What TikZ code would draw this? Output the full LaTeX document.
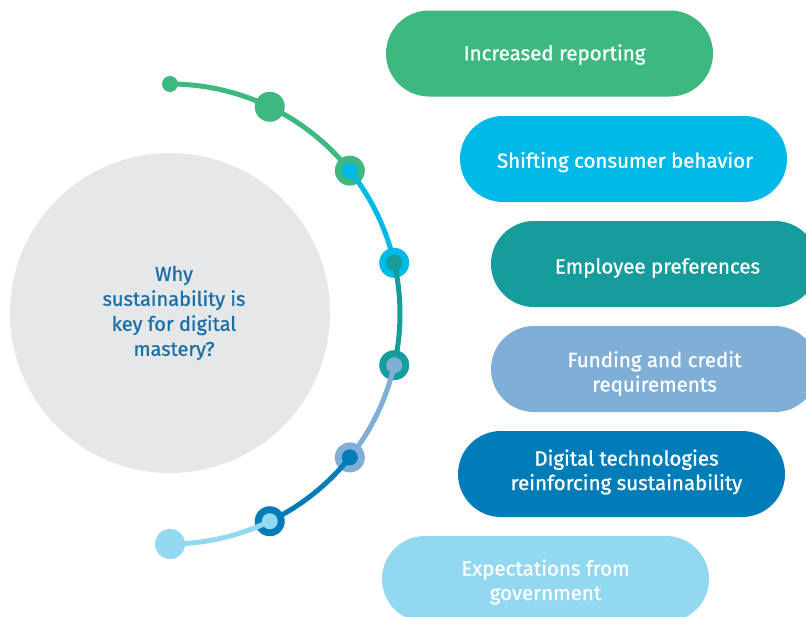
\documentclass[tikz,border=0pt]{standalone}
\usepackage{fontspec}
\setmainfont{Fira Sans}[FakeBold=0.9]
\usetikzlibrary{calc}
\definecolor{cgreen}{HTML}{3DB87F}
\definecolor{ccyan}{HTML}{00B9E6}
\definecolor{cteal}{HTML}{169C9A}
\definecolor{clblue}{HTML}{7FAFD6}
\definecolor{cblue}{HTML}{007DB8}
\definecolor{clcyan}{HTML}{92D8F0}
\definecolor{cgrey}{HTML}{E6E7E9}
\definecolor{ctext}{HTML}{1A70A6}
\begin{document}
\begin{tikzpicture}[x=1pt,y=1pt,
  pill/.style={draw=none, fill=#1, rounded corners=43pt, minimum width=327pt, minimum height=86pt, inner sep=0pt},
  ptext/.style={text=white, align=center, font=\fontsize{20.5}{24.5}\selectfont, inner sep=0pt},
  seg/.style={draw=#1, line width=5pt},
  ring/.style={circle, fill=#1, minimum size=30pt, inner sep=0pt},
  dotin/.style={circle, fill=#1, minimum size=16pt, inner sep=0pt}]
\useasboundingbox (0,0) rectangle (806,-616);
\fill[white] (0,0) rectangle (806,-616);

% central circle
\node[circle, fill=cgrey, minimum size=320pt, inner sep=0pt] (C) at (170,-313) {};
\node[text=ctext, align=center, font=\fontsize{20}{25}\selectfont] (q) at (174,-313)
  {Why\\sustainability is\\key for digital\\mastery?};

% arc points
\coordinate (O) at (170,-314);
\coordinate (p0) at ($(O)+(90:230)$);
\coordinate (p1) at ($(O)+(64.29:230)$);
\coordinate (p2) at ($(O)+(38.57:230)$);
\coordinate (p3) at ($(O)+(12.86:230)$);
\coordinate (p4) at ($(O)+(-12.86:230)$);
\coordinate (p5) at ($(O)+(-38.57:230)$);
\coordinate (p6) at ($(O)+(-64.29:230)$);
\coordinate (p7) at ($(O)+(-90:230)$);

% segment 1 green
\draw[seg=cgreen] (p0) arc[start angle=90, end angle=38.57, radius=230];
\node[circle, fill=cgreen, minimum size=16pt, inner sep=0pt] (s0) at (p0) {};
\node[ring=cgreen] (d1) at (p1) {};
\node[ring=cgreen] (r2) at (p2) {};
% segment 2 cyan
\draw[seg=ccyan] (p2) arc[start angle=38.57, end angle=12.86, radius=230];
\node[dotin=ccyan] (i2) at (p2) {};
\node[ring=ccyan] (r3) at (p3) {};
% segment 3 teal
\draw[seg=cteal] (p3) arc[start angle=12.86, end angle=-12.86, radius=230];
\node[dotin=cteal] (i3) at (p3) {};
\node[ring=cteal] (r4) at (p4) {};
% segment 4 light blue
\draw[seg=clblue] (p4) arc[start angle=-12.86, end angle=-38.57, radius=230];
\node[dotin=clblue] (i4) at (p4) {};
\node[ring=clblue] (r5) at (p5) {};
% segment 5 blue
\draw[seg=cblue] (p5) arc[start angle=-38.57, end angle=-64.29, radius=230];
\node[dotin=cblue] (i5) at (p5) {};
\node[ring=cblue] (r6) at (p6) {};
% segment 6 light cyan
\draw[seg=clcyan] (p6) arc[start angle=-64.29, end angle=-90, radius=230];
\node[dotin=clcyan] (i6) at (p6) {};
\node[ring=clcyan] (e7) at (p7) {};

% pills
\node[pill=cgreen]  (b1) at (549.5,-53.5) {};
\node[pill=ccyan]   (b2) at (623.5,-159) {};
\node[pill=cteal]   (b3) at (654.5,-264) {};
\node[pill=clblue]  (b4) at (654.5,-369) {};
\node[pill=cblue]   (b5) at (621.5,-474) {};
\node[pill=clcyan]  (b6) at (545.5,-579) {};
\node[ptext] (t1) at ($(b1.center)+(5,-1)$) {Increased reporting};
\node[ptext] (t2) at ($(b2.center)+(1.5,-3)$) {Shifting consumer behavior};
\node[ptext] (t3) at ($(b3.center)+(3,-4)$) {Employee preferences};
\node[ptext] (t4) at ($(b4.center)+(0,-4.5)$) {Funding and credit\\requirements};
\node[ptext] (t5) at ($(b5.center)+(5,2)$) {Digital technologies\\reinforcing sustainability};
\node[ptext] (t6) at ($(b6.center)+(0,-3)$) {Expectations from\\government};
\end{tikzpicture}
\end{document}
